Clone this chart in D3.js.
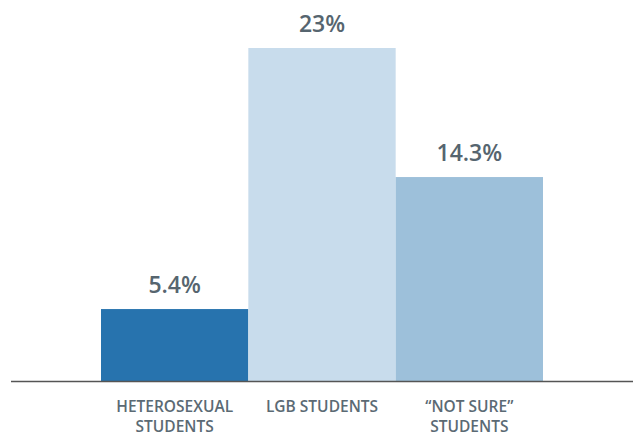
<!DOCTYPE html>
<html>
<head>
<meta charset="utf-8">
<script src="https://cdn.jsdelivr.net/npm/d3@7"></script>
<style>
  body { margin: 0; background: #fff; }
  svg { display: block; font-family: "Open Sans", sans-serif; }
  .value { font-weight: 600; font-size: 23px; fill: #56656f; }
  .cat { font-weight: 600; font-size: 15.5px; fill: #5b6a74; }
</style>
</head>
<body>
<svg id="chart" width="633" height="437"></svg>
<script>
// values
const categories = [["HETEROSEXUAL", "STUDENTS"], ["LGB STUDENTS"], ["\u201CNOT SURE\u201D", "STUDENTS"]];
const values = [5.4, 23, 14.3];
const valueLabels = ["5.4%", "23%", "14.3%"];
const colors = ["#2773ae", "#c8dcec", "#9dc0da"];

const svg = d3.select("#chart"),
  baseline = 381;

const x = d3.scaleBand()
  .domain(d3.range(values.length))
  .range([101, 543])
  .padding(0);

const y = d3.scaleLinear()
  .domain([0.55, 23])
  .range([baseline, 48]);

svg.selectAll("rect.bar")
  .data(values)
  .enter().append("rect")
    .attr("class", "bar")
    .attr("x", (d, i) => x(i))
    .attr("y", d => y(d))
    .attr("width", x.bandwidth())
    .attr("height", d => baseline - y(d))
    .attr("fill", (d, i) => colors[i]);

svg.selectAll("text.value")
  .data(values)
  .enter().append("text")
    .attr("class", "value")
    .attr("text-anchor", "middle")
    .attr("x", (d, i) => x(i) + x.bandwidth() / 2)
    .attr("y", d => y(d) - 16)
    .text((d, i) => valueLabels[i]);

// baseline
svg.append("line")
  .attr("x1", 11).attr("x2", 633)
  .attr("y1", baseline + 0.5).attr("y2", baseline + 0.5)
  .attr("stroke", "#555")
  .attr("stroke-width", 1.5);

const cat = svg.selectAll("text.cat")
  .data(categories)
  .enter().append("text")
    .attr("class", "cat")
    .attr("text-anchor", "middle")
    .attr("x", (d, i) => x(i) + x.bandwidth() / 2)
    .attr("y", 412);

cat.selectAll("tspan")
  .data(d => d)
  .enter().append("tspan")
    .attr("x", function() { return d3.select(this.parentNode).attr("x"); })
    .attr("dy", (d, i) => i ? 20 : 0)
    .text(d => d);
</script>
</body>
</html>
